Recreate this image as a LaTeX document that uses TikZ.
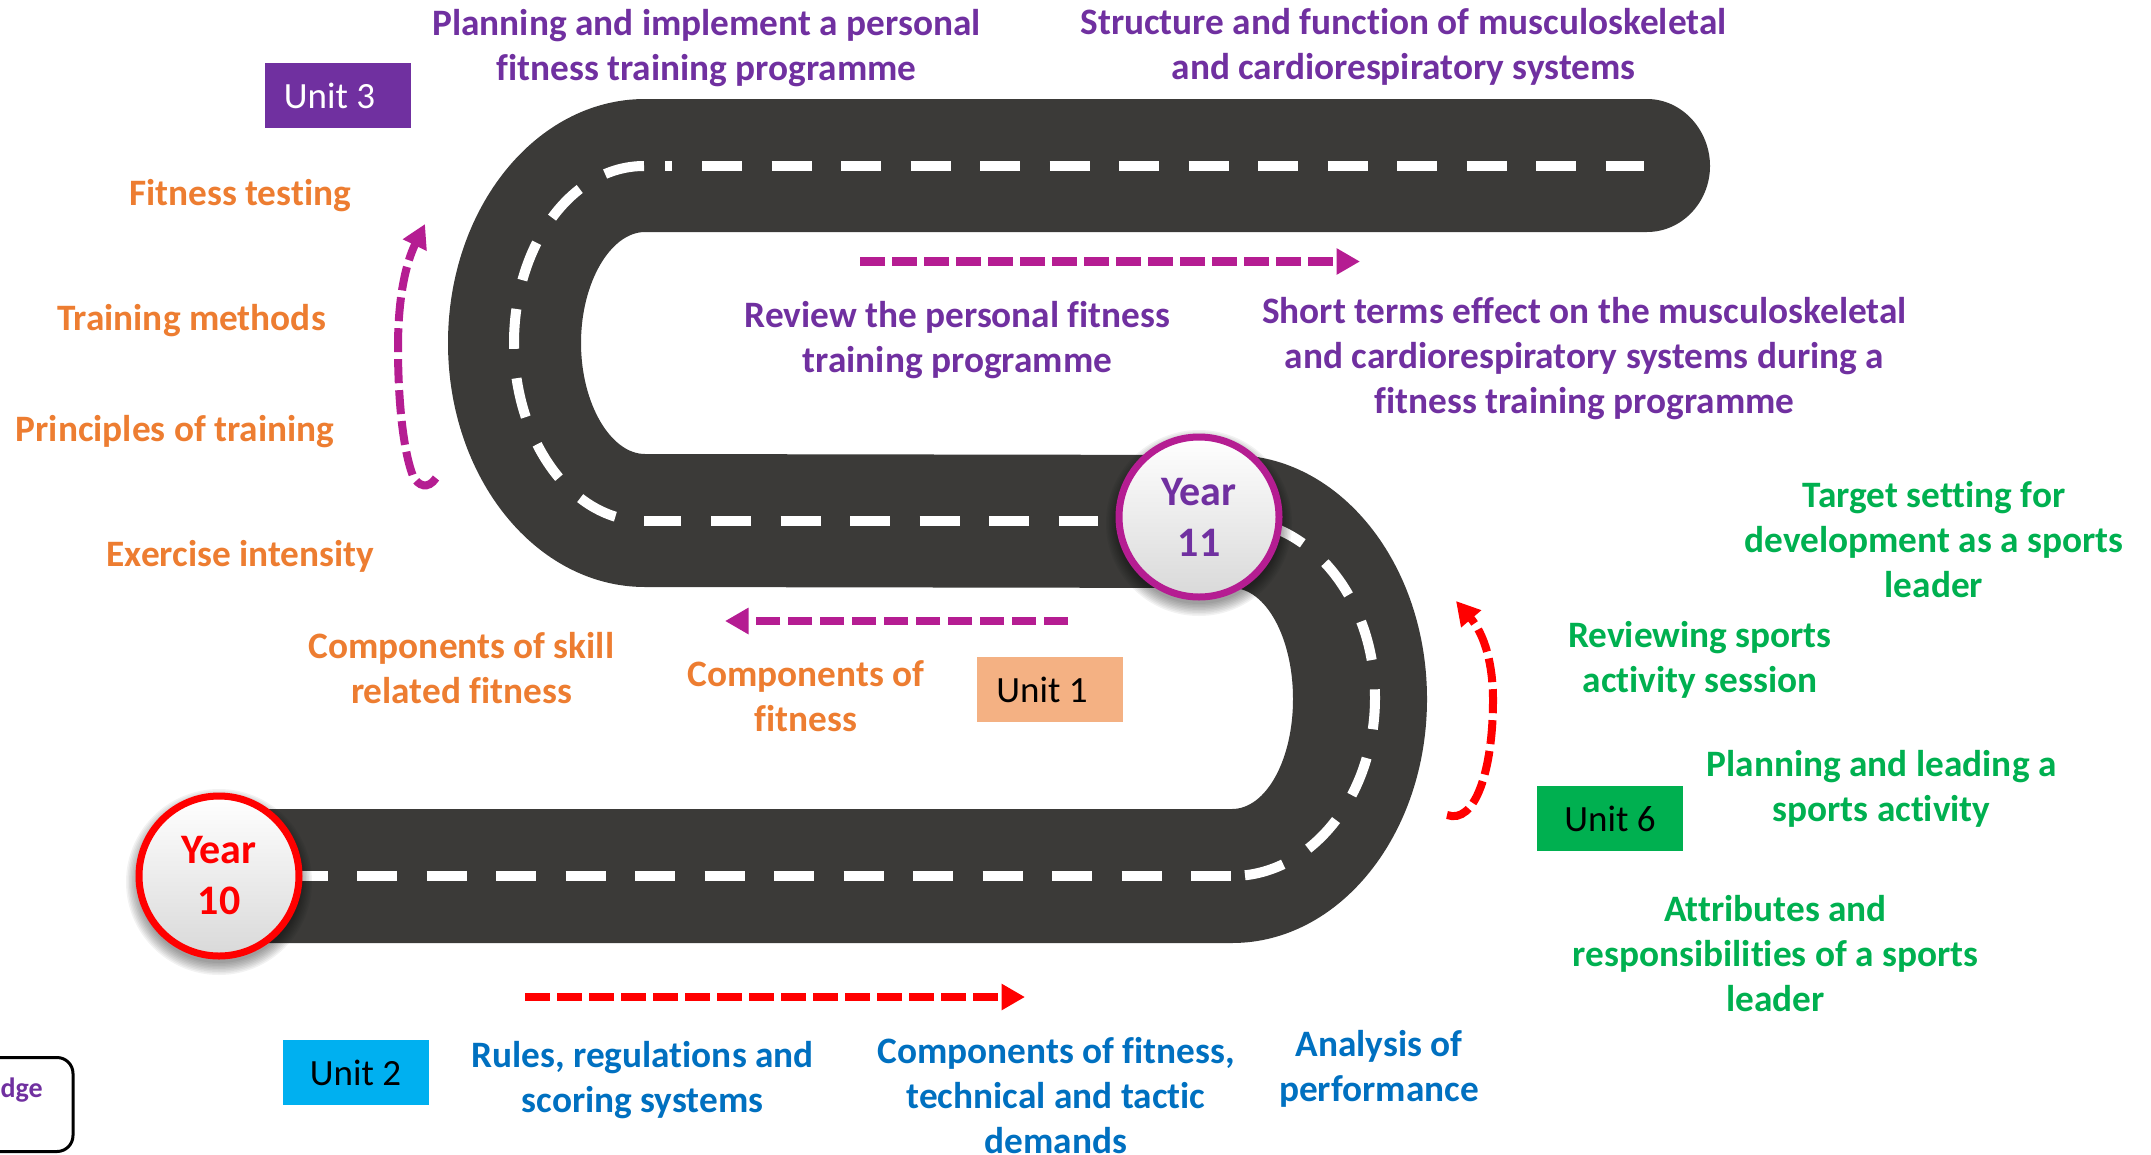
\documentclass[tikz,border=0pt]{standalone}
\usepackage{fontspec}
\setmainfont[Ligatures={NoCommon}]{Carlito}
\usetikzlibrary{arrows.meta}
\definecolor{roadc}{HTML}{3B3A38}
\definecolor{purp}{HTML}{7030A0}
\definecolor{magen}{HTML}{B51D92}
\definecolor{orng}{HTML}{ED7D31}
\definecolor{blu}{HTML}{0070C0}
\definecolor{grn}{HTML}{00B050}
\definecolor{peach}{HTML}{F4B183}
\definecolor{skyb}{HTML}{00B0F0}
\tikzset{
  lab/.style={align=center,inner sep=0pt,font=\bfseries\fontsize{37.3}{45}\selectfont},
  pl/.style={lab,text=purp},
  ol/.style={lab,text=orng},
  bl/.style={lab,text=blu},
  gl/.style={lab,text=grn},
  unitbox/.style={inner sep=0pt,minimum width=146pt,minimum height=65pt,font=\fontsize{37}{45}\selectfont},
  lane/.style={draw=white,line width=10pt,dash pattern=on 40pt off 29.5pt},
  flow/.style={line width=8.5pt,dash pattern=on 24.5pt off 7.5pt,-{Triangle[length=23.5pt,width=25pt]}},
  yearc/.style={circle,line width=7pt,minimum size=160pt,inner sep=0pt,top color=white,bottom color=black!15,align=center,font=\bfseries\fontsize{42}{51}\selectfont}
}
\newcommand{\softshadow}[2]{%
  \foreach \r in {93,91.5,...,81}{\fill[black,opacity=0.05] (#1,#2+6) circle[radius=\r pt];}}
\begin{document}
\begin{tikzpicture}[x=1pt,y=-1pt]
\useasboundingbox (0,0) rectangle (2151,1154);
% road
\fill[roadc] (1647,99) -- (645,99)
  .. controls (536,99) and (448,208) .. (448,343)
  .. controls (448,478) and (536,587) .. (645,587)
  -- (1232,588)
  .. controls (1266,588) and (1293,638) .. (1293,699)
  .. controls (1293,760) and (1266,809) .. (1232,809)
  -- (219,809) -- (219,943) -- (1232,943)
  .. controls (1340,943) and (1427,834) .. (1427,699)
  .. controls (1427,564) and (1340,455) .. (1232,455)
  -- (645,454)
  .. controls (611,454) and (581,404) .. (581,343)
  .. controls (581,282) and (611,232) .. (645,232)
  -- (1647,232)
  .. controls (1682,232) and (1710,202) .. (1710,166)
  .. controls (1710,130) and (1682,99) .. (1647,99) -- cycle;
% lane markings
\coordinate (b0) at (287.5,876); \coordinate (b1) at (1232,876);
\coordinate (m0) at (644,521); \coordinate (m1) at (1098,521);
\coordinate (t0) at (702,166); \coordinate (t1) at (1644,166);
\draw[lane] (b0) -- (b1);
\draw[lane,dash phase=56.5pt] (b1)
  .. controls (1311,876) and (1375,796) .. (1375,698)
  .. controls (1375,600) and (1311,520) .. (1232,520);
\draw[lane] (644,166)
  .. controls (572,166) and (514,245) .. (514,343)
  .. controls (514,441) and (572,521) .. (m0);
\draw[lane,dash pattern=on 37pt off 30pt on 40pt off 29.5pt on 40pt off 29.5pt on 40pt off 29.5pt on 40pt off 29.5pt on 40pt off 29.5pt on 40pt off 29.5pt] (m0) -- (m1);
\draw[lane,dash pattern=on 7pt off 30pt] (665,166) -- (672,166);
\draw[lane] (t0) -- (t1);
% arrows
\coordinate (a1s) at (860,261.5); \coordinate (a1e) at (1360,261.5);
\coordinate (a2s) at (1068,621); \coordinate (a2e) at (725,621);
\coordinate (a3s) at (525,997); \coordinate (a3e) at (1025,997);
\draw[flow,magen] (a1s) -- (a1e);
\draw[flow,magen] (a2s) -- (a2e);
\draw[flow,red] (a3s) -- (a3e);
\draw[flow,red,line width=8pt,dash pattern=on 24pt off 7pt] (1447,815) .. controls (1475,825) and (1493,770) .. (1493,700)
  .. controls (1493,665) and (1485,635) .. (1456,601);
\draw[flow,magen,line width=8pt,dash pattern=on 24pt off 7pt] (436,478) .. controls (428,490) and (418,486) .. (413,476)
  .. controls (403,450) and (398,400) .. (398,347)
  .. controls (398,300) and (405,265) .. (425,224);
% year badges
\softshadow{219}{876}
\softshadow{1199}{517}
\node[yearc,draw=red,text=red] (y10) at (219,876) {Year\\10};
\node[yearc,draw=magen,text=purp] (y11) at (1199,517) {Year\\11};
% unit boxes
\node[unitbox,fill=purp,text=white] (u3) at (337.5,95.5) {Unit 3\kern16pt};
\node[unitbox,fill=peach] (u1) at (1050,689.5) {Unit 1\kern16pt};
\node[unitbox,fill=skyb] (u2) at (355.5,1072.5) {Unit 2};
\node[unitbox,fill=grn] (u6) at (1610,818.5) {Unit 6};
% labels
\node[pl] (p1) at (706.5,48) {Planning and implement a personal\\fitness training programme};
\node[pl] (p2) at (1403.5,47) {Structure and function of musculoskeletal\\and cardiorespiratory systems};
\node[pl] (p3) at (957.5,340) {Review the personal fitness\\training programme};
\node[pl] (p4) at (1584.5,359) {Short terms effect on the musculoskeletal\\and cardiorespiratory systems during a\\fitness training programme};
\node[ol] (o1) at (240,196) {Fitness testing};
\node[ol] (o2) at (191.5,321) {Training methods};
\node[ol] (o3) at (175,432) {Principles of training};
\node[ol] (o4) at (240.5,556) {Exercise intensity};
\node[ol] (o5) at (461.5,668.5) {Components of skill\\related fitness};
\node[ol] (o6) at (806,696) {Components of\\fitness};
\node[gl] (g1) at (1934,540) {Target setting for\\development as a sports\\leader};
\node[gl] (g2) at (1700,660) {Reviewing sports\\activity session};
\node[gl] (g3) at (1881.5,788.5) {Planning and leading a\\sports activity};
\node[gl] (g4) at (1775.5,954) {Attributes and\\responsibilities of a sports\\leader};
\node[bl] (b1n) at (642.5,1080) {Rules, regulations and\\scoring systems};
\node[bl] (b2n) at (1056,1095.5) {Components of fitness,\\technical and tactic\\demands};
\node[bl] (b3n) at (1379,1069) {Analysis of\\performance};
% cut-off box
\node[draw=black,line width=3pt,rounded corners=16pt,minimum width=140pt,minimum height=94pt,inner sep=0pt] (kb) at (3,1104.5) {};
\node[anchor=base east,inner sep=0pt,text=purp,font=\bfseries\fontsize{28}{32}\selectfont] (kt) at (43,1097) {dge};
\end{tikzpicture}
\end{document}
